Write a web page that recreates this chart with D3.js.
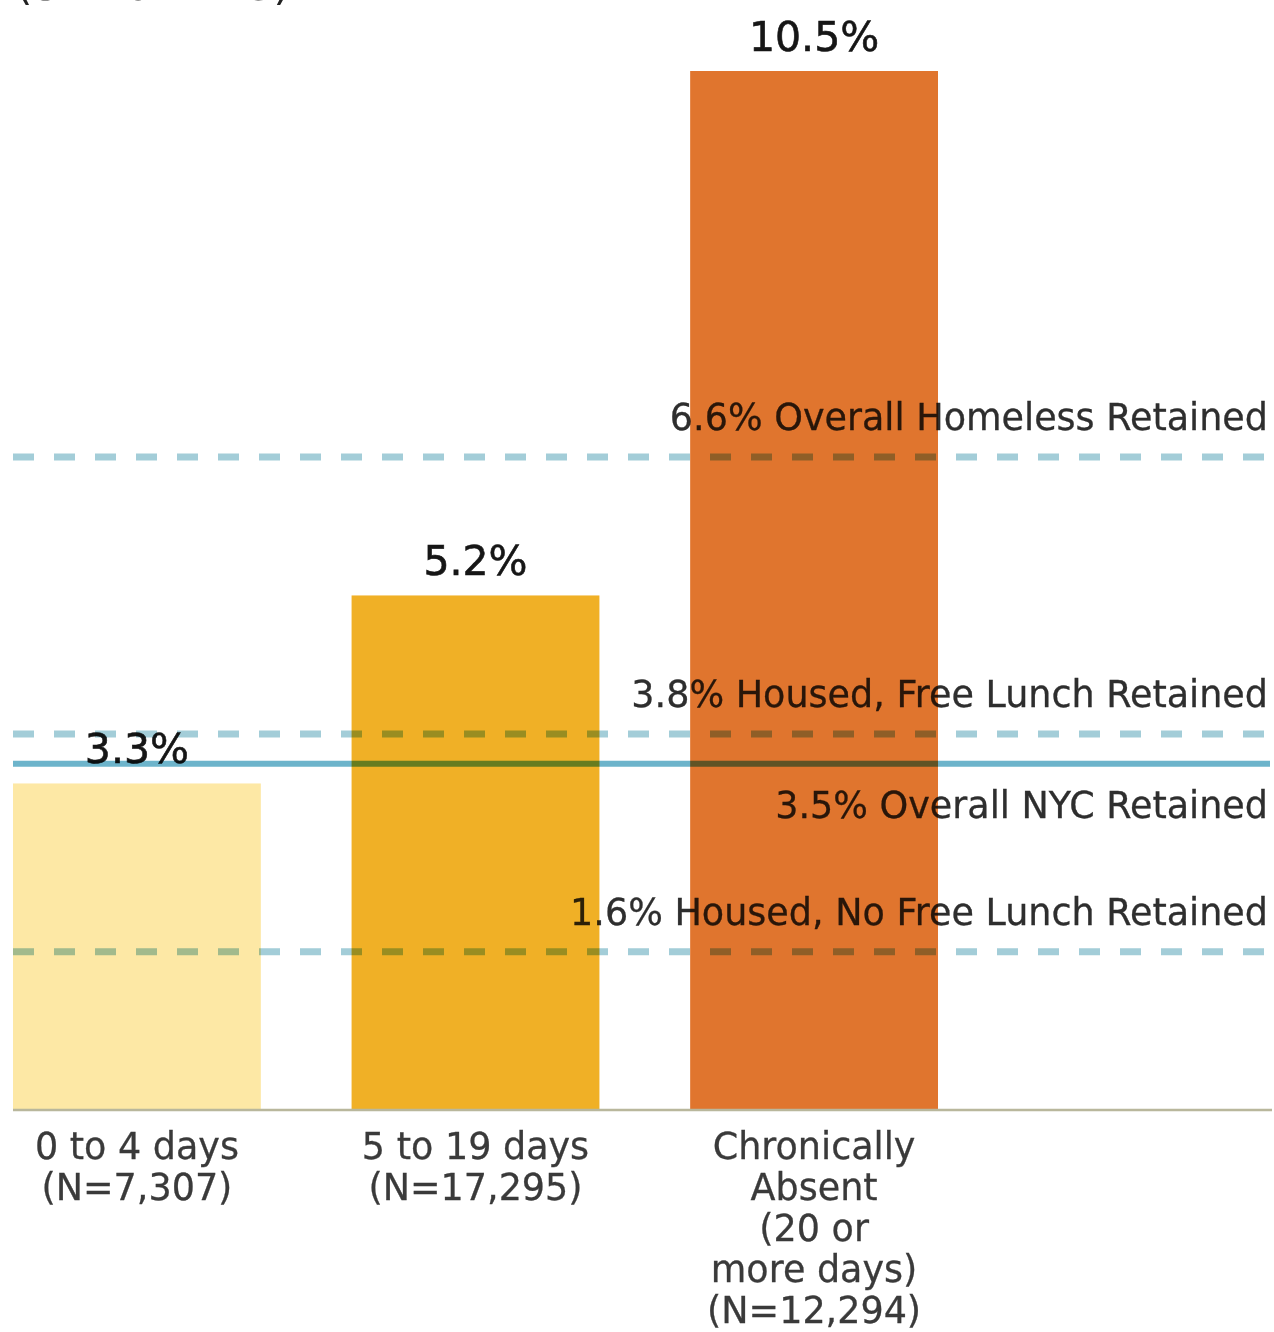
<!DOCTYPE html>
<html>
<head>
<meta charset="utf-8">
<script src="https://d3js.org/d3.v7.min.js"></script>
<style>
  body { margin: 0; background: #fff; }
  text { font-family: "DejaVu Sans", sans-serif; }
  .value { font-size: 41px; fill: #161616; stroke: #161616; stroke-width: 0.6px; text-anchor: middle; }
  .refLabel { font-size: 36.5px; fill: #2e2e2e; stroke: #2e2e2e; stroke-width: 0.3px; text-anchor: end; mix-blend-mode: multiply; }
  .cat { font-size: 36.5px; fill: #3a3a3a; stroke: #3a3a3a; stroke-width: 0.3px; text-anchor: middle; }
</style>
</head>
<body>
<div id="chart"></div>
<script>
// data
const categories = ["0 to 4 days", "5 to 19 days", "Chronically Absent"];
const catLines = [
  ["0 to 4 days", "(N=7,307)"],
  ["5 to 19 days", "(N=17,295)"],
  ["Chronically", "Absent", "(20 or", "more days)", "(N=12,294)"]
];
const rates = [3.3, 5.2, 10.5];
const barColors = ["#fde8a5", "#f0b026", "#e0752e"];

const refValues = [6.6, 3.8, 3.5, 1.6];
const refNames = ["Overall Homeless Retained", "Housed, Free Lunch Retained", "Overall NYC Retained", "Housed, No Free Lunch Retained"];
const refDashed = [true, true, false, true];
const refLabelBelow = [false, false, true, false];

const W = 1274, H = 1332;
const svg = d3.select("#chart").append("svg")
  .attr("width", W).attr("height", H);

// cut-off title at the top
svg.append("text")
  .attr("x", 16).attr("y", 0)
  .style("font-size", "42px").style("fill", "#222")
  .text("(SY 2012-13)");

const x = d3.scaleBand()
  .domain(categories)
  .range([13, 938])
  .paddingInner(0.268)
  .paddingOuter(0);

const y = d3.scaleLinear()
  .domain([0, 10.5])
  .range([1110, 71]);

// bars
svg.append("g").selectAll("rect")
  .data(rates)
  .join("rect")
  .attr("x", (d, i) => x(categories[i]))
  .attr("y", d => y(d))
  .attr("width", x.bandwidth())
  .attr("height", d => y(0) - y(d))
  .attr("fill", (d, i) => barColors[i]);

// value labels
svg.append("g").selectAll("text")
  .data(rates)
  .join("text")
  .attr("class", "value")
  .attr("x", (d, i) => x(categories[i]) + x.bandwidth() / 2)
  .attr("y", d => y(d) - 20)
  .text(d => d.toFixed(1) + "%");

// reference lines (multiply so they darken over the bars)
const refs = refValues.map((v, i) => ({ v, name: refNames[i], dashed: refDashed[i], below: refLabelBelow[i] }));
svg.append("g").selectAll("line")
  .data(refs)
  .join("line")
  .attr("x1", 13).attr("x2", 1270)
  .attr("y1", d => y(d.v)).attr("y2", d => y(d.v))
  .attr("stroke", d => d.dashed ? "#a3cdd8" : "#6db4cb")
  .attr("stroke-width", d => d.dashed ? 7 : 6)
  .attr("stroke-dasharray", d => d.dashed ? "21,20" : null)
  .style("mix-blend-mode", "multiply");

svg.append("g").selectAll("text")
  .data(refs)
  .join("text")
  .attr("class", "refLabel")
  .attr("x", 1268)
  .attr("y", d => d.below ? y(d.v) + 54 : y(d.v) - 27)
  .text(d => d.v.toFixed(1) + "% " + d.name);

// x axis
const xAxis = svg.append("g")
  .attr("transform", `translate(0,${y(0)})`)
  .call(d3.axisBottom(x).tickSize(0).tickFormat(""));
xAxis.select(".domain").remove();
xAxis.append("line")
  .attr("x1", 13).attr("x2", 1272)
  .attr("stroke", "#b9b79c").attr("stroke-width", 2.5);

const catG = svg.append("g").selectAll("text")
  .data(categories)
  .join("text")
  .attr("class", "cat")
  .attr("x", d => x(d) + x.bandwidth() / 2)
  .attr("y", 1159);
catG.each(function (d, i) {
  d3.select(this).selectAll("tspan")
    .data(catLines[i])
    .join("tspan")
    .attr("x", x(d) + x.bandwidth() / 2)
    .attr("dy", (t, j) => j === 0 ? 0 : 41)
    .text(t => t);
});
</script>
</body>
</html>
